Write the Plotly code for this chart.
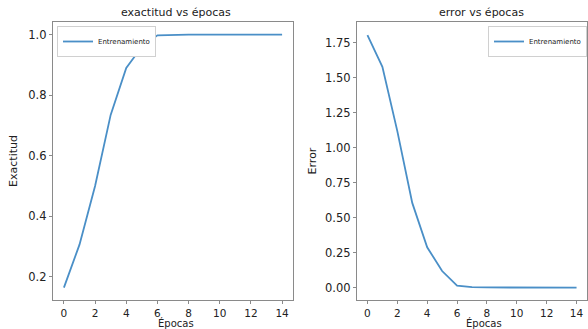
import plotly.graph_objects as go
from plotly.subplots import make_subplots

epocas = list(range(15))
exactitud = [0.164, 0.306, 0.50, 0.735, 0.89, 0.96, 0.998, 1.0, 1.0, 1.0, 1.0, 1.0, 1.0, 1.0, 1.0]
error = [1.807, 1.58, 1.12, 0.607, 0.29, 0.12, 0.015, 0.005, 0.003, 0.002, 0.002, 0.001, 0.001, 0.001, 0.001]

color = "#4a8fc7"
font = "DejaVu Sans"
axcol = "#8a8a8a"

fig = make_subplots(rows=1, cols=2)
fig.add_trace(go.Scatter(x=epocas, y=exactitud, mode="lines", name="Entrenamiento",
                         line=dict(color=color, width=1.8), legend="legend"), 1, 1)
fig.add_trace(go.Scatter(x=epocas, y=error, mode="lines", name="Entrenamiento",
                         line=dict(color=color, width=1.8), legend="legend2"), 1, 2)

ax_common = dict(showgrid=False, zeroline=False, showline=True, linecolor=axcol, linewidth=1.3,
                 mirror=True, ticks="outside", ticklen=3, tickcolor=axcol)
xfont = dict(size=10.5, color="#222", family=font)
yfont = dict(size=11.5, color="#222", family=font)

fig.update_layout(
    width=588, height=329, margin=dict(l=0, r=0, t=0, b=0),
    plot_bgcolor="white", paper_bgcolor="white",
    font=dict(family=font, color="#222"),
    xaxis=dict(domain=[53/588, 293/588], range=[-0.7, 14.7], tickvals=list(range(0, 15, 2)),
               tickfont=xfont, **ax_common),
    yaxis=dict(domain=[1-300/329, 1-22/329], range=[0.123, 1.042], tickvals=[0.2, 0.4, 0.6, 0.8, 1.0],
               tickformat=".1f", tickfont=yfont,
               title=dict(text="Exactitud", font=dict(size=11), standoff=8), **ax_common),
    xaxis2=dict(domain=[357/588, 587/588], range=[-0.7, 14.7], tickvals=list(range(0, 15, 2)),
                tickfont=xfont, **ax_common),
    yaxis2=dict(domain=[1-300/329, 1-22/329], range=[-0.087, 1.9],
                tickvals=[0, 0.25, 0.5, 0.75, 1.0, 1.25, 1.5, 1.75], tickformat=".2f", tickfont=yfont,
                title=dict(text="Error", font=dict(size=11), standoff=6), **ax_common),
    legend=dict(x=57/588, y=1-26/329, xanchor="left", yanchor="top", bgcolor="white",
                bordercolor="#d0d0d0", borderwidth=1, font=dict(size=7, family=font),
                itemwidth=30, tracegroupgap=0),
    legend2=dict(x=587/588, y=1-26/329, xanchor="right", yanchor="top", bgcolor="white",
                 bordercolor="#d0d0d0", borderwidth=1, font=dict(size=7, family=font),
                 itemwidth=30, tracegroupgap=0),
    showlegend=True,
    annotations=[
        dict(text="exactitud vs épocas", x=176/588, y=1-12/329, xref="paper", yref="paper",
             xanchor="center", yanchor="middle",
             showarrow=False, font=dict(size=11, family=font, color="#222")),
        dict(text="error vs épocas", x=481/588, y=1-12/329, xref="paper", yref="paper",
             xanchor="center", yanchor="middle",
             showarrow=False, font=dict(size=11, family=font, color="#222")),
        dict(text="Épocas", x=176/588, y=1-322.5/329, xref="paper", yref="paper",
             xanchor="center", yanchor="middle", borderpad=0,
             showarrow=False, font=dict(size=10, family=font, color="#222")),
        dict(text="Épocas", x=484/588, y=1-322.5/329, xref="paper", yref="paper",
             xanchor="center", yanchor="middle", borderpad=0,
             showarrow=False, font=dict(size=10, family=font, color="#222")),
    ],
)

fig.write_html("out.html", config={"displayModeBar": False},
               post_script="document.body.style.margin='0';")
